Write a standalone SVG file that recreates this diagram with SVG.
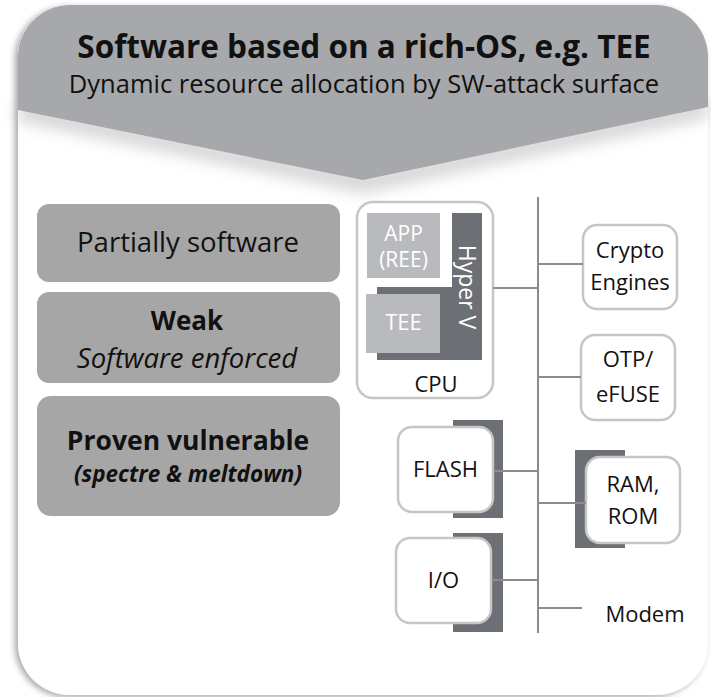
<svg xmlns="http://www.w3.org/2000/svg" width="711" height="697" viewBox="0 0 711 697">
<defs>
<filter id="cardShadow" x="-10%" y="-10%" width="120%" height="120%">
<feGaussianBlur in="SourceAlpha" stdDeviation="3"/>
<feOffset dx="-3" dy="2" result="b"/>
<feComponentTransfer><feFuncA type="linear" slope="0.35"/></feComponentTransfer>
<feMerge><feMergeNode/><feMergeNode in="SourceGraphic"/></feMerge>
</filter>
<filter id="chevShadow" x="-10%" y="-20%" width="120%" height="160%">
<feGaussianBlur stdDeviation="8"/>
</filter>
<style>
text{font-family:"Open Sans","Liberation Sans",sans-serif;fill:#111;}
.box{fill:#a6a6a6;}
.wbox{fill:#fff;stroke:#c6c6c6;stroke-width:2.5;}
.dark{fill:#6c6f74;}
.light{fill:#b9babd;}
.wt{fill:#fff;}
.r22{font-size:22px;text-anchor:middle;}
.conn line{stroke:#8c8c8c;stroke-width:2;}
</style>
</defs>
<rect width="711" height="697" fill="#fff"/>
<g id="card">
<rect x="18" y="5" width="690" height="690" rx="52" ry="52" fill="#fff" filter="url(#cardShadow)"/>
<path d="M18,120 L363,192 L708,117 L708,100 L363,175 L18,103 Z" fill="#b0b0b0" opacity="0.6" filter="url(#chevShadow)"/>
<path d="M18,110 L18,57 A52,52 0 0 1 70,5 L656,5 A52,52 0 0 1 708,57 L708,107 L363,180 Z" fill="#a7a8ab"/>
</g>
<g id="header">
<text x="364" y="58" style="font-size:31.5px;font-weight:bold;text-anchor:middle;">Software based on a rich-OS, e.g. TEE</text>
<text x="364" y="93" style="font-size:25.5px;text-anchor:middle;">Dynamic resource allocation by SW-attack surface</text>
</g>
<g id="partially">
<rect class="box" x="37" y="204" width="303" height="78" rx="12"/>
<text x="188" y="252" style="font-size:27.5px;text-anchor:middle;">Partially software</text>
</g>
<g id="weak">
<rect class="box" x="37" y="292" width="303" height="91" rx="12"/>
<text x="187" y="330" style="font-size:26px;font-weight:bold;text-anchor:middle;">Weak</text>
<text x="187" y="368" style="font-size:27.5px;font-style:italic;text-anchor:middle;">Software enforced</text>
</g>
<g id="proven">
<rect class="box" x="37" y="396" width="303" height="120" rx="14"/>
<text x="188" y="450" style="font-size:26.5px;font-weight:bold;text-anchor:middle;">Proven vulnerable</text>
<text x="188" y="482" style="font-size:22.5px;font-weight:bold;font-style:italic;text-anchor:middle;">(spectre &amp; meltdown)</text>
</g>
<g id="cpu">
<rect class="wbox" x="357" y="202" width="136" height="196" rx="16"/>
<rect class="light" x="367" y="213" width="73" height="65"/>
<rect class="dark" x="452" y="213" width="30" height="147"/>
<rect class="dark" x="377" y="287" width="105" height="73"/>
<rect class="light" x="366" y="294" width="74" height="59"/>
<text class="wt" x="403.5" y="241" style="font-size:21px;text-anchor:middle;">APP</text>
<text class="wt" x="403.5" y="267" style="font-size:21px;text-anchor:middle;">(REE)</text>
<text class="r22 wt" x="403.5" y="330">TEE</text>
<text class="wt" transform="translate(459,287) rotate(90)" style="font-size:23px;text-anchor:middle;">Hyper V</text>
<text class="r22" x="436" y="392">CPU</text>
</g>
<g id="crypto">
<rect class="wbox" x="583" y="225" width="94" height="84" rx="14"/>
<text class="r22" x="630" y="258">Crypto</text>
<text class="r22" x="630" y="290">Engines</text>
</g>
<g id="otp">
<rect class="wbox" x="581" y="335" width="94" height="85" rx="14"/>
<text class="r22" x="628" y="367">OTP/</text>
<text class="r22" x="628" y="402">eFUSE</text>
</g>
<g id="flash">
<rect class="dark" x="453" y="420" width="50" height="98"/>
<rect class="wbox" x="398" y="427" width="95" height="85" rx="14"/>
<text class="r22" x="445.5" y="477">FLASH</text>
</g>
<g id="ram">
<rect class="dark" x="575" y="450" width="50" height="98"/>
<rect class="wbox" x="586" y="457" width="94" height="86" rx="14"/>
<text class="r22" x="633" y="492">RAM,</text>
<text class="r22" x="633" y="524">ROM</text>
</g>
<g id="io">
<rect class="dark" x="453" y="533" width="50" height="99"/>
<rect class="wbox" x="396" y="538" width="95" height="85" rx="14"/>
<text class="r22" x="443.5" y="588">I/O</text>
</g>
<g id="modem">
<text class="r22" x="645" y="622">Modem</text>
</g>
<g id="connectors" class="conn">
<line x1="538" y1="197" x2="538" y2="633"/>
<line x1="493" y1="288" x2="538" y2="288"/>
<line x1="538" y1="264" x2="583" y2="264"/>
<line x1="538" y1="377" x2="581" y2="377"/>
<line x1="494" y1="471" x2="538" y2="471"/>
<line x1="538" y1="503" x2="586" y2="503"/>
<line x1="492" y1="580" x2="538" y2="580"/>
<line x1="538" y1="608" x2="582" y2="608"/>
</g>
</svg>
